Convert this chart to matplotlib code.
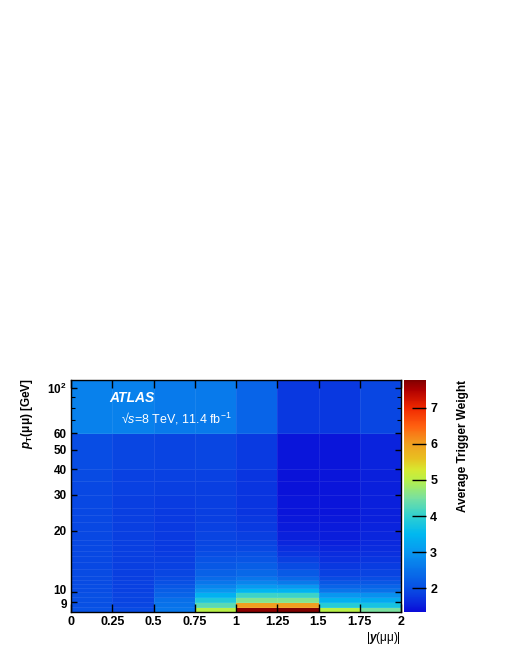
import numpy as np
import matplotlib
matplotlib.use("Agg")
import matplotlib.pyplot as plt
from matplotlib.colors import LinearSegmentedColormap, Normalize
from matplotlib.ticker import FixedLocator, NullFormatter
from matplotlib.transforms import ScaledTranslation

plt.rcParams['font.family'] = ['Liberation Sans', 'DejaVu Sans']
plt.rcParams['mathtext.fontset'] = 'custom'
plt.rcParams['mathtext.rm'] = 'Liberation Sans:bold'
plt.rcParams['mathtext.bf'] = 'Liberation Sans:bold:italic'
plt.rcParams['mathtext.it'] = 'Liberation Sans:italic'
plt.rcParams['mathtext.sf'] = 'Liberation Sans'

# ---- data ----
y_edges = [0, 0.25, 0.5, 0.75, 1.0, 1.25, 1.5, 1.75, 2.0]
pt_edges = [8, 8.5, 9, 9.5, 10, 10.5, 11, 11.5, 12, 13, 14, 15, 16, 17, 18,
            20, 22, 24, 26, 30, 35, 40, 60, 110]

# average trigger weight per |y| column, from low to high pT
col_0_025 = [2.05, 2.0, 2.0, 2.0, 1.98, 1.97, 1.96, 1.95, 1.95, 1.94, 1.94, 1.93,
             1.93, 1.93, 1.92, 1.92, 1.92, 1.93, 1.93, 1.94, 1.95, 1.97, 2.7]
col_025_05 = [1.95, 1.9, 1.88, 1.87, 1.86, 1.85, 1.85, 1.84, 1.84, 1.83, 1.83, 1.83,
              1.82, 1.82, 1.82, 1.82, 1.82, 1.83, 1.83, 1.85, 1.86, 1.9, 2.7]
col_05_075 = [2.55, 2.5, 2.45, 2.3, 2.2, 2.1, 2.0, 1.95, 1.9, 1.85, 1.82, 1.8,
              1.78, 1.78, 1.77, 1.77, 1.77, 1.78, 1.8, 1.82, 1.85, 1.88, 2.6]
col_075_1 = [5.0, 4.3, 3.85, 3.4, 3.0, 2.75, 2.55, 2.4, 2.25, 2.12, 2.05, 1.98,
             1.93, 1.9, 1.87, 1.85, 1.84, 1.83, 1.83, 1.84, 1.85, 1.9, 2.6]
col_1_125 = [7.7, 6.0, 4.6, 4.1, 3.5, 3.05, 2.75, 2.55, 2.35, 2.2, 2.08, 2.0,
             1.93, 1.87, 1.82, 1.78, 1.75, 1.73, 1.72, 1.72, 1.73, 1.78, 2.3]
col_125_15 = [7.78, 6.0, 4.6, 4.1, 3.45, 3.0, 2.6, 2.35, 2.15, 1.95, 1.82, 1.72,
              1.65, 1.58, 1.52, 1.48, 1.45, 1.43, 1.42, 1.4, 1.4, 1.42, 1.75]
col_15_175 = [5.0, 3.9, 3.4, 3.0, 2.55, 2.3, 2.1, 1.95, 1.85, 1.75, 1.68, 1.62,
              1.57, 1.53, 1.5, 1.47, 1.45, 1.44, 1.43, 1.42, 1.42, 1.44, 1.75]
col_175_2 = [4.5, 3.75, 3.3, 2.9, 2.5, 2.3, 2.1, 1.97, 1.88, 1.8, 1.74, 1.68,
             1.64, 1.6, 1.57, 1.55, 1.53, 1.52, 1.52, 1.52, 1.53, 1.56, 1.9]

x_ticks = [0, 0.25, 0.5, 0.75, 1, 1.25, 1.5, 1.75, 2]
x_ticklabels = ['0', '0.25', '0.5', '0.75', '1', '1.25', '1.5', '1.75', '2']
y_ticks = [9, 10, 20, 30, 40, 50, 60, 100]
y_ticklabels = ['9', '10', '20', '30', '40', '50', '60', r'$\mathrm{10^{2}}$']
cb_ticks = [2, 3, 4, 5, 6, 7]
zmin, zmax = 1.34, 7.78

Z = np.array([col_0_025, col_025_05, col_05_075, col_075_1, col_1_125,
              col_125_15, col_15_175, col_175_2]).T

# ---- colormap ----
anchors = [(1.34, '#0a0cd8'), (1.6, '#0a2ade'), (2.0, '#0850e4'), (2.5, '#0872ea'),
           (3.0, '#0898f0'), (3.5, '#00b8f0'), (4.0, '#30d0d0'), (4.5, '#78e0a0'),
           (5.0, '#b8f048'), (5.3, '#d8e830'), (5.6, '#e8c020'), (6.0, '#f0a020'),
           (6.5, '#ff6010'), (7.0, '#f02800'), (7.5, '#b00000'), (7.78, '#800000')]
cmap = LinearSegmentedColormap.from_list(
    'atl', [((v - zmin) / (zmax - zmin), c) for v, c in anchors], N=256)

W, H = 510, 660
fig = plt.figure(figsize=(W / 100, H / 100), dpi=100)
ax = fig.add_axes([71 / W, 48 / H, 330 / W, 232.3 / H])
cax = fig.add_axes([404 / W, 48 / H, 22 / W, 232.3 / H])

mesh = ax.pcolormesh(y_edges, pt_edges, Z, cmap=cmap,
                     norm=Normalize(zmin, zmax),
                     edgecolors=(1, 1, 1, 0.08), linewidth=0.5)
ax.set_yscale('log')
ax.set_xlim(0, 2)
ax.set_ylim(8, 110)

ax.xaxis.set_major_locator(FixedLocator(x_ticks))
ax.set_xticklabels(x_ticklabels, fontsize=9, fontweight='bold')
ax.yaxis.set_major_locator(FixedLocator(y_ticks))
ax.set_yticklabels(y_ticklabels, fontsize=8.5, fontweight='bold')
ax.yaxis.set_minor_locator(FixedLocator([70, 80, 90]))
ax.yaxis.set_minor_formatter(NullFormatter())
ax.tick_params(axis='both', which='major', direction='in', length=6, width=1,
               top=True, right=True, pad=3)
ax.tick_params(axis='y', which='major', length=4)
ax.tick_params(axis='both', which='minor', direction='in', length=3, width=0.8,
               top=False, right=True)
for s in ax.spines.values():
    s.set_linewidth(1)

# nudge the crowded '9' / '10' labels apart as in the reference
for lab in ax.get_yticklabels():
    if lab.get_text() == '10':
        lab.set_transform(lab.get_transform() + ScaledTranslation(0, 2.5 / 100, fig.dpi_scale_trans))
    elif lab.get_text() == '9':
        lab.set_transform(lab.get_transform() + ScaledTranslation(0, -1.5 / 100, fig.dpi_scale_trans))

cb = fig.colorbar(mesh, cax=cax)
cb.outline.set_visible(False)
cb.set_ticks(cb_ticks)
cb.ax.tick_params(direction='in', length=10, width=1, pad=3)
cb.ax.minorticks_off()
for t in cb.ax.get_yticklabels():
    t.set_fontsize(9)
    t.set_fontweight('bold')

fig.text(463 / W, 1 - 380 / H, 'Average Trigger Weight', rotation=90,
         ha='center', va='top', fontsize=8.5, fontweight='bold')
fig.text(27 / W, 1 - 378 / H, r'$\mathbf{p}_{\mathrm{T}}$(μμ) [GeV]', rotation=90,
         ha='center', va='top', fontsize=8.5, fontweight='bold')
fig.text(401 / W, 1 - 638 / H, r'|$\mathbf{y}$(μμ)|', ha='right', va='center',
         fontsize=8.5)
fig.text(109 / W, 1 - 398 / H, 'ATLAS', color='white', fontsize=10,
         fontweight='bold', fontstyle='italic', va='center')
fig.text(121 / W, 1 - 419 / H, r'√$\mathit{s}$=8 TeV, 11.4 fb$^{\mathsf{-1}}$',
         color='white', fontsize=9, va='center')

fig.savefig('out.png', dpi=100)
